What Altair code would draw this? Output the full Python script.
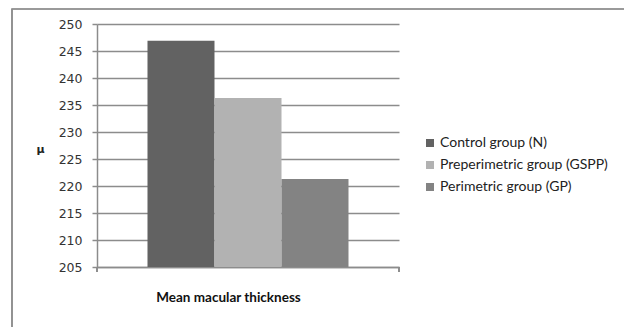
import altair as alt
import pandas as pd

# Mean macular thickness (μ) per study group
groups = ["Control group (N)", "Preperimetric group (GSPP)", "Perimetric group (GP)"]
thickness = [246.9, 236.3, 221.3]
measure = "Mean macular thickness"
colors = ["#626262", "#b2b2b2", "#838383"]

df = pd.DataFrame({"measure": [measure] * len(groups), "group": groups, "value": thickness})

W, H = 302, 243
AXIS_GREY = "#8c8c8c"

bars = alt.Chart(df).mark_bar(clip=True).encode(
    x=alt.X("measure:N", scale=alt.Scale(paddingInner=0, paddingOuter=0.2512),
            axis=alt.Axis(labels=False, ticks=False,
                          domainColor=AXIS_GREY, domainWidth=1.5,
                          title=measure, titleFont="Lato", titleFontSize=13.5,
                          titleFontWeight="bold", titleColor="#111",
                          titleX=131, titleY=23, titleBaseline="top", titleAlign="center")),
    xOffset=alt.XOffset("group:N", sort=groups, scale=alt.Scale(paddingInner=0, paddingOuter=0)),
    y=alt.Y("value:Q", scale=alt.Scale(domain=[205, 250], nice=False, zero=False),
            axis=alt.Axis(values=list(range(205, 251, 5)), title="μ", titleAngle=0,
                          titleX=-57, titleY=130, titleAlign="center", titleFont="DejaVu Sans",
                          titleFontSize=11, titleFontWeight="bold", titleColor="#222",
                          labelFont="DejaVu Sans", labelFontSize=12.5, labelColor="#333",
                          labelPadding=10, tickSize=5, tickColor=AXIS_GREY, tickWidth=1.5,
                          domainColor=AXIS_GREY, domainWidth=1.5,
                          gridColor=AXIS_GREY, gridWidth=1.5)),
    color=alt.Color("group:N", sort=groups, scale=alt.Scale(domain=groups, range=colors),
                    legend=alt.Legend(title=None, orient="none", legendX=326, legendY=112,
                                      symbolType="square", symbolSize=64, symbolStrokeWidth=0,
                                      labelFont="Lato", labelFontSize=14, labelColor="#222",
                                      labelLimit=0, rowPadding=8, labelOffset=3)),
)

# category-boundary ticks at both ends of the horizontal axis
left_tick = alt.Chart(df).mark_rule(color=AXIS_GREY, strokeWidth=1.5).encode(
    x=alt.value(0), y=alt.value(H), y2=alt.value(H + 5)
)
right_tick = alt.Chart(df).mark_rule(color=AXIS_GREY, strokeWidth=1.5).encode(
    x=alt.value(W), y=alt.value(H), y2=alt.value(H + 5)
)

# outer chart frame
frame = alt.Chart(df).mark_rect(fill=None, stroke=AXIS_GREY, strokeWidth=1.2, clip=False).encode(
    x=alt.value(-85), x2=alt.value(700), y=alt.value(-15), y2=alt.value(400)
)

chart = alt.layer(frame, bars, left_tick, right_tick).properties(
    width=W, height=H,
    padding={"left": 97, "top": 24, "right": 225, "bottom": 60},
    autosize=alt.AutoSizeParams(type="none"),
).configure(background="white").configure_view(stroke=None)

chart.save("out.html", embed_options={"renderer": "svg", "actions": False})
